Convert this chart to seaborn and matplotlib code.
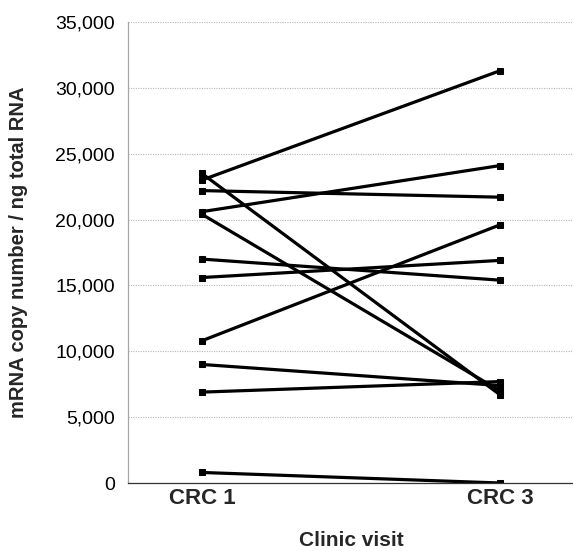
import matplotlib
matplotlib.use("Agg")
import matplotlib.pyplot as plt
import seaborn as sns
import pandas as pd
from matplotlib.ticker import FuncFormatter

# mRNA copy number per ng total RNA for each patient at two clinic visits
visits = ["CRC 1", "CRC 3"]
crc1_values = [23500, 23000, 22200, 20600, 20400, 17000, 15600, 10800, 9000, 6900, 800]
crc3_values = [6700, 31300, 21700, 24100, 7000, 15400, 16900, 19600, 7400, 7700, 0]
y_ticks = [0, 5000, 10000, 15000, 20000, 25000, 30000, 35000]

rows = []
for pid, (a, b) in enumerate(zip(crc1_values, crc3_values)):
    rows.append({"patient": pid, "visit": visits[0], "copies": a})
    rows.append({"patient": pid, "visit": visits[1], "copies": b})
df = pd.DataFrame(rows)

sns.set_style("white")
plt.rcParams["font.family"] = ["Liberation Sans", "DejaVu Sans"]

fig = plt.figure(figsize=(5.73, 5.51), dpi=100)
ax = fig.add_axes([128 / 573, 1 - 483 / 551, 445 / 573, 461 / 551])

sns.lineplot(
    data=df, x="visit", y="copies", units="patient", estimator=None,
    color="black", linewidth=2.3, marker="s", markersize=5,
    markeredgecolor="black", markerfacecolor="black", ax=ax, legend=False,
)

ax.set_xlim(-0.248, 1.245)
ax.set_ylim(0, 35000)
ax.set_yticks(y_ticks)
ax.yaxis.set_major_formatter(FuncFormatter(lambda v, p: f"{int(v):,}"))

ax.grid(axis="y", color="#b5b5b5", linestyle=(0, (1, 1.2)), linewidth=0.8)
ax.grid(axis="x", visible=False)
ax.set_axisbelow(True)

for side in ("top", "right"):
    ax.spines[side].set_visible(False)
ax.spines["left"].set_color("#a6a6a6")
ax.spines["left"].set_linewidth(0.9)
ax.spines["bottom"].set_color("#333333")
ax.spines["bottom"].set_linestyle((0, (1.5, 1)))
ax.spines["bottom"].set_linewidth(0.9)

ax.tick_params(axis="y", length=0, pad=9.5, labelsize=14, colors="black")
ax.tick_params(axis="x", length=0, pad=3.5, labelsize=16)
for lab in ax.get_xticklabels():
    lab.set_fontweight("bold")

ax.set_xlabel("")
ax.set_ylabel("")
fig.text(19 / 573, 1 - 252 / 551, "mRNA copy number / ng total RNA",
         rotation=90, ha="center", va="center", fontsize=14.5, fontweight="bold")
fig.text(351 / 573, 1 - 540 / 551, "Clinic visit",
         ha="center", va="center", fontsize=15, fontweight="bold")

fig.savefig("out.png", dpi=100)
